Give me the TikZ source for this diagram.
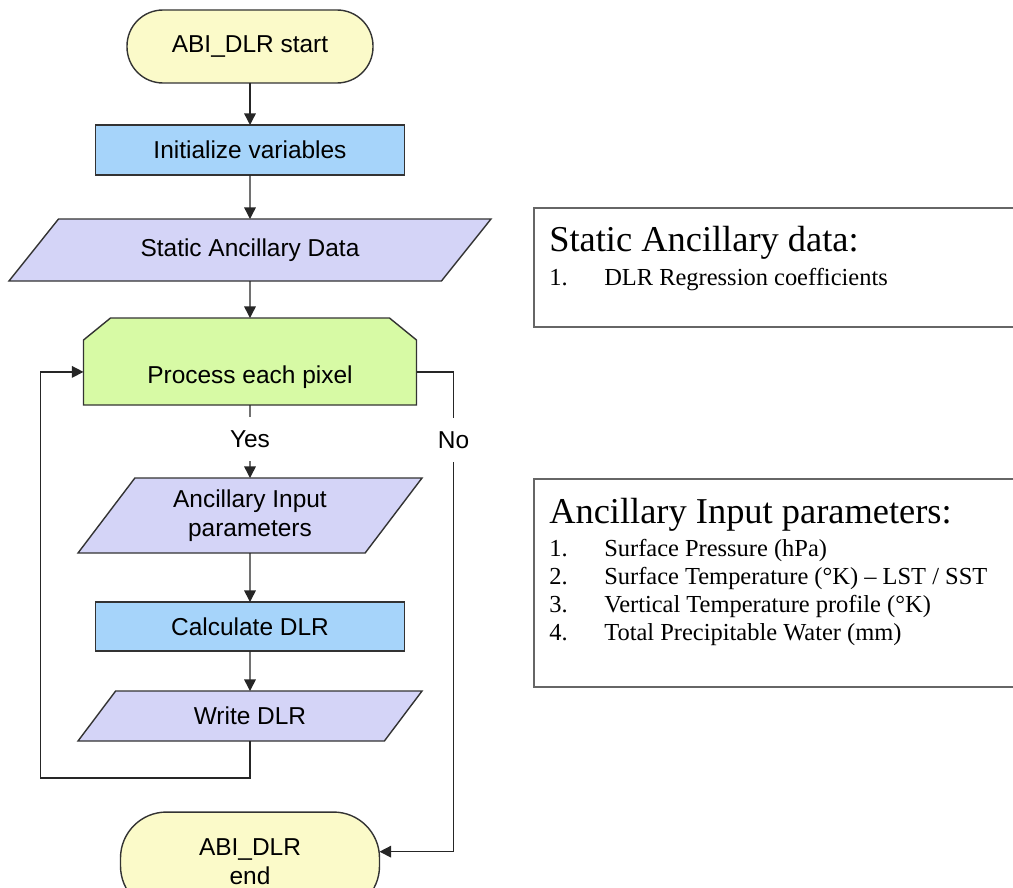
\documentclass[tikz,border=0pt]{standalone}
\usepackage{fontspec}
\setmainfont{Liberation Serif}
\setsansfont{Liberation Sans}
\usepackage{xcolor}
\usepackage{tikz}
\usetikzlibrary{arrows.meta,positioning,shapes.geometric,backgrounds}
\definecolor{DlrYellow}{HTML}{FBFAC9}
\definecolor{DlrBlue}{HTML}{A6D4FA}
\definecolor{DlrLilac}{HTML}{D4D4F7}
\definecolor{DlrGreen}{HTML}{D7FAA5}
\newcommand{\dlritem}[1]{\makebox[13.75mm][l]{#1}}

\begin{document}
\begin{tikzpicture}[x=1cm,y=1cm,>={Triangle[length=2.9mm,width=2.9mm]}, node distance=1cm,
    flowtext/.style={font=\sffamily\fontsize{17.4}{20.5}\selectfont, text=black, outer sep=0pt},
    flowline/.style={->, line width=1pt, draw=black!85},
    terminal/.style={flowtext, draw=black!80, line width=1pt, fill=DlrYellow, rounded corners=9mm, align=center},
    taskbox/.style={flowtext, draw=black!80, line width=1pt, fill=DlrBlue, minimum width=7.725cm, align=center},
    databox/.style={flowtext, trapezium, trapezium stretches body, draw=black!80, line width=1pt, fill=DlrLilac, align=center},
    loopbox/.style={flowtext, minimum width=8.325cm, minimum height=2.175cm},
    loopedge/.style={draw=black!80, line width=1pt, fill=DlrGreen},
    branch/.style={flowtext, fill=white, inner sep=1pt, minimum height=1.1cm},
    infobox/.style={draw=black!60, line width=1.4pt, anchor=north west, minimum width=12.6cm},
    infotitle/.style={font=\fontsize{25.9}{30}\selectfont, anchor=base west, inner sep=0pt},
    infoitem/.style={font=\fontsize{17.4}{20}\selectfont, anchor=base west, inner sep=0pt}]
        \useasboundingbox (0,0) rectangle (25.325,-22.175);
        \clip (0,0) rectangle (25.325,-22.175);
        % flow chart
        \node[terminal, minimum width=6.15cm, minimum height=1.825cm] (start) at (6.25,-1.1625) {ABI\_DLR start};
        \node[taskbox, minimum height=1.25cm, below=1.05cm of start] (init) {Initialize variables};
        \node[databox, minimum width=12.05cm, minimum height=1.55cm, trapezium left angle=33, trapezium right angle=147, below=1.1cm of init] (static) {Static Ancillary Data};
        \node[loopbox, text height=1.24cm, text depth=1.2mm, below=0.925cm of static] (pixel) {Process each pixel};
        \begin{scope}[on background layer]
          \path[loopedge] ([xshift=6.75mm]pixel.north west) -- ([xshift=-6.75mm]pixel.north east) -- ([yshift=-5.5mm]pixel.north east)
            -- (pixel.south east) -- (pixel.south west) -- ([yshift=-5.5mm]pixel.north west) -- cycle;
        \end{scope}
        \node[databox, minimum width=8.6cm, minimum height=1.875cm, trapezium left angle=47, trapezium right angle=133, below=1.825cm of pixel] (ancin) {Ancillary Input\\parameters};
        \node[taskbox, minimum height=1.225cm, below=1.225cm of ancin] (calc) {Calculate DLR};
        \node[databox, minimum width=8.6cm, minimum height=1.25cm, trapezium left angle=36, trapezium right angle=144, below=1cm of calc] (write) {Write DLR};
        \node[terminal, minimum width=6.475cm, minimum height=2.5cm, rounded corners=11.5mm, below=1.775cm of write] (stop) {ABI\_DLR\\end};
        \coordinate (pixelin) at ([yshift=-2.6mm]pixel.west);
        \coordinate (pixelout) at ([yshift=-2.6mm]pixel.east);
        \coordinate (stopin) at ([yshift=2.6mm]stop.east);
        \coordinate (loopback) at ([xshift=-10.75mm]pixelin);
        \coordinate (nobend) at ([xshift=9.25mm]pixelout);
        \draw[flowline] (start) -- (init);
        \draw[flowline] (init) -- (static);
        \draw[flowline] (static) -- (pixel);
        \draw[flowline] (pixel) -- node[branch, pos=0.47] {Yes} (ancin);
        \draw[flowline] (ancin) -- (calc);
        \draw[flowline] (calc) -- (write);
        \draw[flowline] (write.south) -- ++(0,-0.925) -| (loopback) -- (pixelin);
        \draw[flowline] (pixelout) -| node[branch, pos=0.571] {No} (nobend |- stopin) -- (stopin);
        % side notes
        \node[infobox, minimum height=2.975cm] (staticinfo) at (13.325,-5.175) {};
        \node[infotitle] (staticinfotitle) at ([xshift=4mm,yshift=-11.1mm]staticinfo.north west) {Static Ancillary data:};
        \node[infoitem] (staticinfoone) at ([xshift=4mm,yshift=-19.5mm]staticinfo.north west) {\dlritem{1.}DLR Regression coefficients};
        \node[infobox, minimum height=5.2cm] (ancinfo) at (13.325,-11.95) {};
        \node[infotitle] (ancinfotitle) at ([xshift=4mm,yshift=-11.25mm]ancinfo.north west) {Ancillary Input parameters:};
        \node[infoitem] (ancinfoone) at ([xshift=4mm,yshift=-19.5mm]ancinfo.north west) {\dlritem{1.}Surface Pressure (hPa)};
        \node[infoitem] (ancinfotwo) at ([xshift=4mm,yshift=-26.5mm]ancinfo.north west) {\dlritem{2.}Surface Temperature (°K) -- LST / SST};
        \node[infoitem] (ancinfothree) at ([xshift=4mm,yshift=-33.5mm]ancinfo.north west) {\dlritem{3.}Vertical Temperature profile (°K)};
        \node[infoitem] (ancinfofour) at ([xshift=4mm,yshift=-40.5mm]ancinfo.north west) {\dlritem{4.}Total Precipitable Water (mm)};
      \end{tikzpicture}
\end{document}
